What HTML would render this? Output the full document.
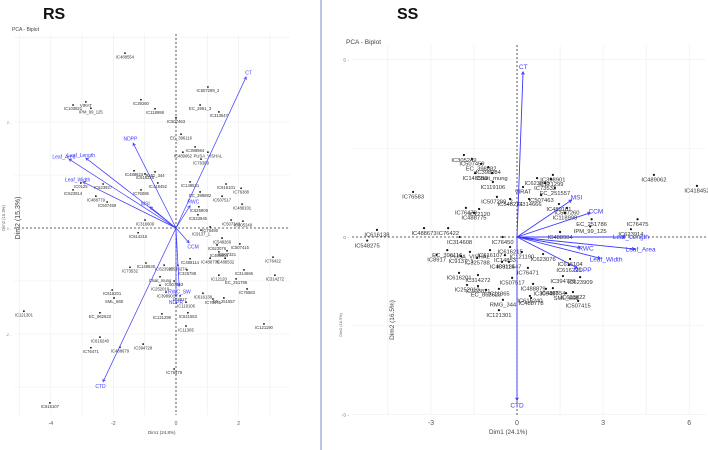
<!DOCTYPE html>
<html><head><meta charset="utf-8"><style>
html,body{margin:0;padding:0;background:#fff;width:708px;height:450px;overflow:hidden}
svg{display:block;font-family:"Liberation Sans",sans-serif}
</style></head><body>
<svg id="chart" width="708" height="450" viewBox="0 0 708 450">
<text x="43" y="19" font-size="16" font-weight="bold" fill="#111">RS</text>
<text x="12" y="31" font-size="5" fill="#444">PCA - Biplot</text>
<line x1="321" y1="0" x2="321" y2="450" stroke="#8fa0d0" stroke-width="1.2"/>
<text x="397" y="19" font-size="16" font-weight="bold" fill="#111">SS</text>
<text x="346" y="44" font-size="6.5" fill="#444">PCA - Biplot</text>
<g id="rs"></g><g id="ss"></g>
</svg>
<script>
// ---- RS panel data ----
const rsLabels=["IC488554","VIRAT","IC103821","IPM_99_125","IC39260","IC118998","IC507299_2","EC_2851_3","IC313547","IC507463","EC_396116","IC489062","IC398984","PUSA_VISHAL","IC76389","RMG_344","IC488823","IC616225","IC418452","IC148531","IC616101","IC76388","EC_398882","IC507517","IC489101","IC625909","IC623945","IC507342","IC305249","IC76480","IC0125","IC623914","IC488779","IC507459","IC76086","IC623927","IC316609","IC614215","IC9137_1","IC548266","IC507415","IC623076","IC488904","IC507321","IC488532","IC76422","IC488775","IC488114","IC548274","IC148530","IC73532","IC623920","IC325788","IC12120","IC314666","EC_251786","IC314272","Chait_mung","IC252010","IC507913","IC76583","IC616201","IC616138","EC_251557","IC76475","IC398901","IC8917","SML_668","IC119106","EC_862623","IC121299","IC621553","IC121301","IC11365","IC121190","IC616240","IC76471","IC488679","IC394728","IC76479","IC616107"];
const rsX=[-1.63,-2.88,-3.29,-2.72,-1.12,-0.67,1.02,0.77,1.37,0,0.16,0.22,0.61,1.02,0.8,-0.67,-1.34,-0.99,-0.58,0.45,1.6,2.08,0.77,1.47,2.11,0.73,0.7,1.76,2.14,1.09,-3.04,-3.29,-2.56,-2.2,-1.12,-2.33,-0.99,-1.21,0.8,1.47,2.04,1.31,1.37,1.63,1.57,3.1,1.09,0.45,0.06,-0.96,-1.47,-0.38,0.35,1.37,2.17,1.92,3.16,-0.51,-0.51,-0.06,2.27,-2.04,0.86,1.53,1.18,-0.32,0.13,-1.98,0.32,-2.43,-0.45,0.38,-4.86,0.32,2.81,-2.43,-2.72,-1.79,-1.05,-0.06,-4.03];
const rsY=[3.3,2.38,2.32,2.26,2.42,2.25,2.66,2.32,2.19,2.08,1.77,1.43,1.53,1.43,1.3,1.06,1.08,1.02,0.85,0.87,0.83,0.75,0.68,0.6,0.45,0.4,0.25,0.15,0.13,0.02,0.85,0.72,0.6,0.49,0.72,0.83,0.15,-0.09,-0.04,-0.19,-0.3,-0.32,-0.45,-0.43,-0.57,-0.55,-0.57,-0.58,-0.7,-0.66,-0.74,-0.7,-0.79,-0.89,-0.79,-0.96,-0.89,-0.92,-1.08,-1,-1.15,-1.17,-1.23,-1.32,-1.34,-1.21,-1.28,-1.32,-1.4,-1.6,-1.62,-1.6,-1.57,-1.85,-1.81,-2.06,-2.26,-2.25,-2.19,-2.66,-3.3];
const rsVarNames=["CT","NDPP","Leaf_Length","Leaf_Area","Leaf_Width","MSI","RWC","CCM","CTD","NDPR","RWC_SW"];
const rsVarX=[2.24,-1.37,-2.88,-3.42,-2.97,-0.83,0.45,0.42,-2.33,0,0.1];
const rsVarY=[2.85,1.6,1.32,1.3,0.87,0.4,0.42,-0.28,-2.9,-1.3,-1.1];
const rsXTicks=[-4,-2,0,2];
const rsYTicks=[2,0,-2];
// ---- SS panel data ----
const ssLabels=["IC305249","IC507459","EC_398882","IC398984","IC148530","Chait_mung","IC119106","IC76583","IC507299_2","VIRAT","IC548274","IC76479","IC12120","IC488775","IC76422","IC488673","EC_251557","IC398901","IC121299","IC623945","IC73532","IC507463","IC507260","IC489101","IC118998","IC314666","IC489062","IC418452","IC76475","IC623914","EC_251786","IPM_99_125","IC488904","IC616138","IC548275","IC314608","IC76450","EC_396116","PUSA_VISHAL","IC616107","IC8917","IC9137_1","IC325788","IC14853","IC616215","IC121190","IC623076","IC616104","IC489114","IC312547","IC76471","IC616201","IC314272","IC252010","IC488879","IC394728","IC616225","IC623909","IC309497","IC623822","IC507517","IC103821","EC_862623","IC11365","IC488778","SML_668","IC488554","RMG_344","IC616240","IC507415","IC121301"];
const ssX=[-1.85,-1.57,-1.25,-1.0,-1.46,-0.87,-0.84,-3.62,-0.7,0.21,-0.24,-1.78,-1.32,-1.5,-2.4,-3.24,1.32,1.25,1.18,0.7,0.98,0.84,1.74,1.46,1.67,0.42,4.77,6.27,4.2,3.97,2.6,2.55,1.5,-4.88,-5.22,-2.0,-0.5,-2.43,-1.64,-0.94,-2.8,-1.95,-1.39,-0.42,-0.24,0.17,0.91,1.85,-0.52,-0.28,0.38,-2.02,-1.36,-1.74,0.56,1.6,1.81,2.2,1.01,1.95,-0.17,-1.36,-1.08,-0.63,0.49,1.71,1.25,-0.49,0.45,2.13,-0.63];
const ssY=[2.31,2.2,2.06,1.97,1.8,1.8,1.55,1.27,1.13,1.41,1.07,0.82,0.79,0.68,0.25,0.25,1.38,1.75,1.63,1.66,1.52,1.18,0.82,0.93,0.68,1.07,1.75,1.44,0.5,0.22,0.5,0.3,0.14,0.2,-0.1,0,0,-0.37,-0.42,-0.37,-0.5,-0.54,-0.59,-0.51,-0.28,-0.42,-0.48,-0.62,-0.7,-0.7,-0.87,-1.01,-1.07,-1.35,-1.32,-1.1,-0.79,-1.13,-1.46,-1.55,-1.15,-1.38,-1.49,-1.46,-1.72,-1.58,-1.44,-1.77,-1.66,-1.8,-2.06];
const ssVarNames=["CT","CTD","Leaf_Length","Leaf_Area","Leaf_Width","MSI","CCM","NDPP","RWC"];
const ssVarX=[0.21,0,3.76,4.1,2.9,1.9,2.55,2.1,2.2];
const ssVarY=[4.65,-4.6,0,-0.34,-0.6,1.04,0.68,-0.87,-0.3];
const ssXTicks=[-3,0,3,6];
const ssYTicks=[5,0,-5];

const NS="http://www.w3.org/2000/svg";
function mk(parent,tag,attrs){const e=document.createElementNS(NS,tag);for(const k in attrs)e.setAttribute(k,attrs[k]);parent.appendChild(e);return e;}

function drawPanel(g,cfg,labels,xs,ys,vn,vx,vy,xt,yt,prefix){
  const sx=v=>cfg.ox+v*cfg.kx, sy=v=>cfg.oy-v*cfg.ky;
  for(const gx of cfg.gridX){const l=mk(g,'line',{x1:sx(gx),x2:sx(gx),y1:cfg.top,y2:cfg.bottom,stroke:'#ececec','stroke-width':0.6});
    
    }
  for(const gy of cfg.gridY){const l=mk(g,'line',{x1:cfg.left,x2:cfg.right,y1:sy(gy),y2:sy(gy),stroke:'#ececec','stroke-width':0.6});
    
    }
  const hv=mk(g,'line',{x1:sx(0),x2:sx(0),y1:cfg.top,y2:cfg.bottom,stroke:'#333','stroke-dasharray':'2,2','stroke-width':0.8});
  
  
  const hh=mk(g,'line',{x1:cfg.left,x2:cfg.right,y1:sy(0),y2:sy(0),stroke:'#333','stroke-dasharray':'2,2','stroke-width':0.8});
  
  
  for(const t of xt){const e=mk(g,'text',{x:sx(t),y:cfg.bottom+10,'font-size':cfg.tick,'text-anchor':'middle',fill:'#555'});e.textContent=t;
    
    }
  for(const t of yt){const e=mk(g,'text',{x:cfg.left-3,y:sy(t)+2,'font-size':cfg.tick*0.7,'text-anchor':'end',fill:'#777'});e.textContent=t+' -';
    
    }
  for(let i=0;i<labels.length;i++){
    const c=mk(g,'circle',{cx:sx(xs[i]),cy:sy(ys[i]),r:cfg.r,fill:'#111'});
    
    
    const t=mk(g,'text',{x:sx(xs[i]),y:sy(ys[i])+cfg.lab+1,'font-size':cfg.lab,'text-anchor':'middle',fill:'#333'});t.textContent=labels[i];
    
    
  }
  for(let i=0;i<vn.length;i++){
    const x2=sx(vx[i]),y2=sy(vy[i]),x1=sx(0),y1=sy(0);
    const a=mk(g,'line',{x1,y1,x2,y2,stroke:'#3a3aff','stroke-width':cfg.aw});
    
    
    const ang=Math.atan2(y2-y1,x2-x1),h=3;
    const p=mk(g,'polyline',{points:`${x2-h*Math.cos(ang-0.5)},${y2-h*Math.sin(ang-0.5)} ${x2},${y2} ${x2-h*Math.cos(ang+0.5)},${y2-h*Math.sin(ang+0.5)}`,fill:'none',stroke:'#3a3aff','stroke-width':cfg.aw});
    
    
    const dx=Math.cos(ang)*6,dy=Math.sin(ang)*5;
    const t=mk(g,'text',{x:x2+dx,y:y2+dy+2,'font-size':cfg.vlab,'text-anchor':'middle',fill:'#3a3aff'});t.textContent=vn[i];
    
    
  }
  const xl=mk(g,'text',{x:sx(0)-28,y:cfg.bottom+19,'font-size':cfg.tick*0.9,fill:'#444'});xl.textContent=cfg.xTitle;
  
  
  const yl=mk(g,'text',{x:0,y:0,'font-size':cfg.yts,fill:'#444','text-anchor':'middle',transform:`translate(${cfg.ytx},${cfg.yty}) rotate(-90)`});yl.textContent=cfg.yTitle;
  
  
  const yl2=mk(g,'text',{x:0,y:0,'font-size':cfg.yts*0.6,fill:'#666','text-anchor':'middle',transform:`translate(${cfg.ytx2},${cfg.yty2}) rotate(-90)`});yl2.textContent=cfg.yTitle;
  
  
}
drawPanel(document.getElementById('rs'),
 {ox:176,oy:228,kx:31.3,ky:53,left:14,right:290,top:34,bottom:415,gridX:[-5,-4,-3,-2,-1,0,1,2,3],gridY:[3.6,2,1,0,-1,-2,-3],
  r:0.9,lab:4.2,vlab:5,aw:0.7,tick:5,xTitle:'Dim1 (24.8%)',yTitle:'Dim2 (15.3%)',yts:7,ytx:20,yty:218,ytx2:5,yty2:218},
 rsLabels,rsX,rsY,rsVarNames,rsVarX,rsVarY,rsXTicks,rsYTicks,'rs');
drawPanel(document.getElementById('ss'),
 {ox:517,oy:237,kx:28.7,ky:35.5,left:352,right:706,top:45,bottom:415,gridX:[-4.5,-3,-1.5,0,1.5,3,4.5,6],gridY:[5,2.5,0,-2.5,-5],
  r:1.1,lab:5.8,vlab:6.5,aw:0.9,tick:7,xTitle:'Dim1 (24.1%)',yTitle:'Dim2 (16.5%)',yts:6.5,ytx:394,yty:320,ytx2:342,yty2:325},
 ssLabels,ssX,ssY,ssVarNames,ssVarX,ssVarY,ssXTicks,ssYTicks,'ss');
</script>
</body></html>
